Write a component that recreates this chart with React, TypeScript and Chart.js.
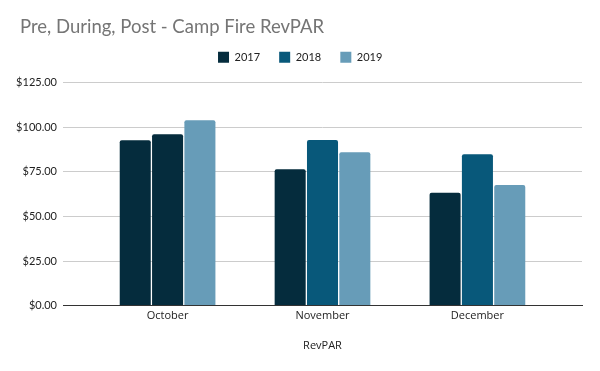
import React, { useEffect, useRef } from "react";
import { Chart, registerables } from "chart.js";

Chart.register(...registerables);

const categories = ["October", "November", "December"];
const seriesNames = ["2017", "2018", "2019"];
const values2017 = [92.7, 76.5, 63.3];
const values2018 = [96.1, 92.8, 84.9];
const values2019 = [103.9, 86.0, 67.6];
const yTicks = [0, 25, 50, 75, 100, 125];

const C2017 = "#052c3d";
const C2018 = "#08587a";
const C2019 = "#679cb8";
const seriesColors = [C2017, C2018, C2019];
// In the reference, the October 2018 bar is drawn in the 2017 colour.
const colors2018 = [C2017, C2018, C2018];

const layoutTweaks = {
  id: "layoutTweaks",
  beforeInit(chart: any) {
    const legend = chart.legend;
    if (!legend) return;
    const fit = legend.fit;
    legend.fit = function () {
      fit.call(this);
      this.height += 10;
    };
  },
  afterLayout(chart: any) {
    const t = chart.titleBlock;
    if (t) t.left = 20;
    const l = chart.legend;
    if (l) {
      l.left += 7;
      l.right += 7;
    }
  },
};

export default function App() {
  const ref = useRef<HTMLCanvasElement | null>(null);

  useEffect(() => {
    if (!ref.current) return;
    const toPts = (arr: number[]) => arr.map((v, i) => ({ x: i, y: v }));
    const chart = new Chart(ref.current, {
      type: "bar",
      data: {
        datasets: [
          { label: seriesNames[0], data: toPts(values2017), backgroundColor: C2017 },
          { label: seriesNames[1], data: toPts(values2018), backgroundColor: colors2018 },
          { label: seriesNames[2], data: toPts(values2019), backgroundColor: C2019 },
        ],
      },
      plugins: [layoutTweaks],
      options: {
        animation: false,
        responsive: false,
        maintainAspectRatio: false,
        layout: { padding: { left: 10, right: 18, top: 0, bottom: 19 } },
        datasets: {
          bar: {
            categoryPercentage: 0.626,
            barPercentage: 0.96,
            borderRadius: 2,
          },
        },
        plugins: {
          title: {
            display: true,
            text: "Pre, During, Post - Camp Fire RevPAR",
            align: "start",
            color: "#757575",
            font: { family: "Lato", size: 18.5, weight: "normal" },
            padding: { top: 16, bottom: 0 },
          },
          legend: {
            display: true,
            position: "top",
            labels: {
              generateLabels: () =>
                seriesNames.map((n, i) => ({
                  text: n + "  ",
                  fillStyle: seriesColors[i],
                  strokeStyle: seriesColors[i],
                  lineWidth: 0,
                  hidden: false,
                  datasetIndex: i,
                  fontColor: "#222",
                })),
              boxWidth: 11,
              boxHeight: 11,
              padding: 13.5,
              color: "#222",
              font: { family: "Lato", size: 11 },
            },
          },
          tooltip: { enabled: false },
        },
        scales: {
          x: {
            type: "linear",
            offset: false,
            min: -0.675,
            max: 2.675,
            grid: { display: false, drawTicks: false },
            border: { display: true, color: "#333", width: 1 },
            ticks: {
              stepSize: 1,
              includeBounds: false,
              autoSkip: false,
              maxRotation: 0,
              color: "#222",
              font: { family: "Open Sans", size: 11 },
              padding: 4,
              callback: (v: any) =>
                Number.isInteger(v) && v >= 0 && v < categories.length ? categories[v] : "",
            },
            title: {
              display: true,
              text: "RevPAR",
              color: "#222",
              font: { family: "Open Sans", size: 11 },
              padding: { top: 12, bottom: 0 },
            },
          },
          y: {
            min: 0,
            max: 125,
            afterBuildTicks: (s: any) => {
              s.ticks = yTicks.map((v) => ({ value: v }));
            },
            afterFit: (s: any) => {
              s.width = 53;
            },
            grid: { color: "#cccccc", drawTicks: false },
            border: { display: false },
            ticks: {
              color: "#222",
              padding: 6,
              font: { family: "Lato", size: 11 },
              callback: (v: any) => "$" + Number(v).toFixed(2),
            },
          },
        },
      },
    });
    return () => chart.destroy();
  }, []);

  return (
    <div style={{ position: "fixed", left: 0, top: 0, width: 600, height: 371, background: "#fff" }}>
      <canvas ref={ref} width={600} height={371} style={{ display: "block", width: 600, height: 371 }} />
    </div>
  );
}
